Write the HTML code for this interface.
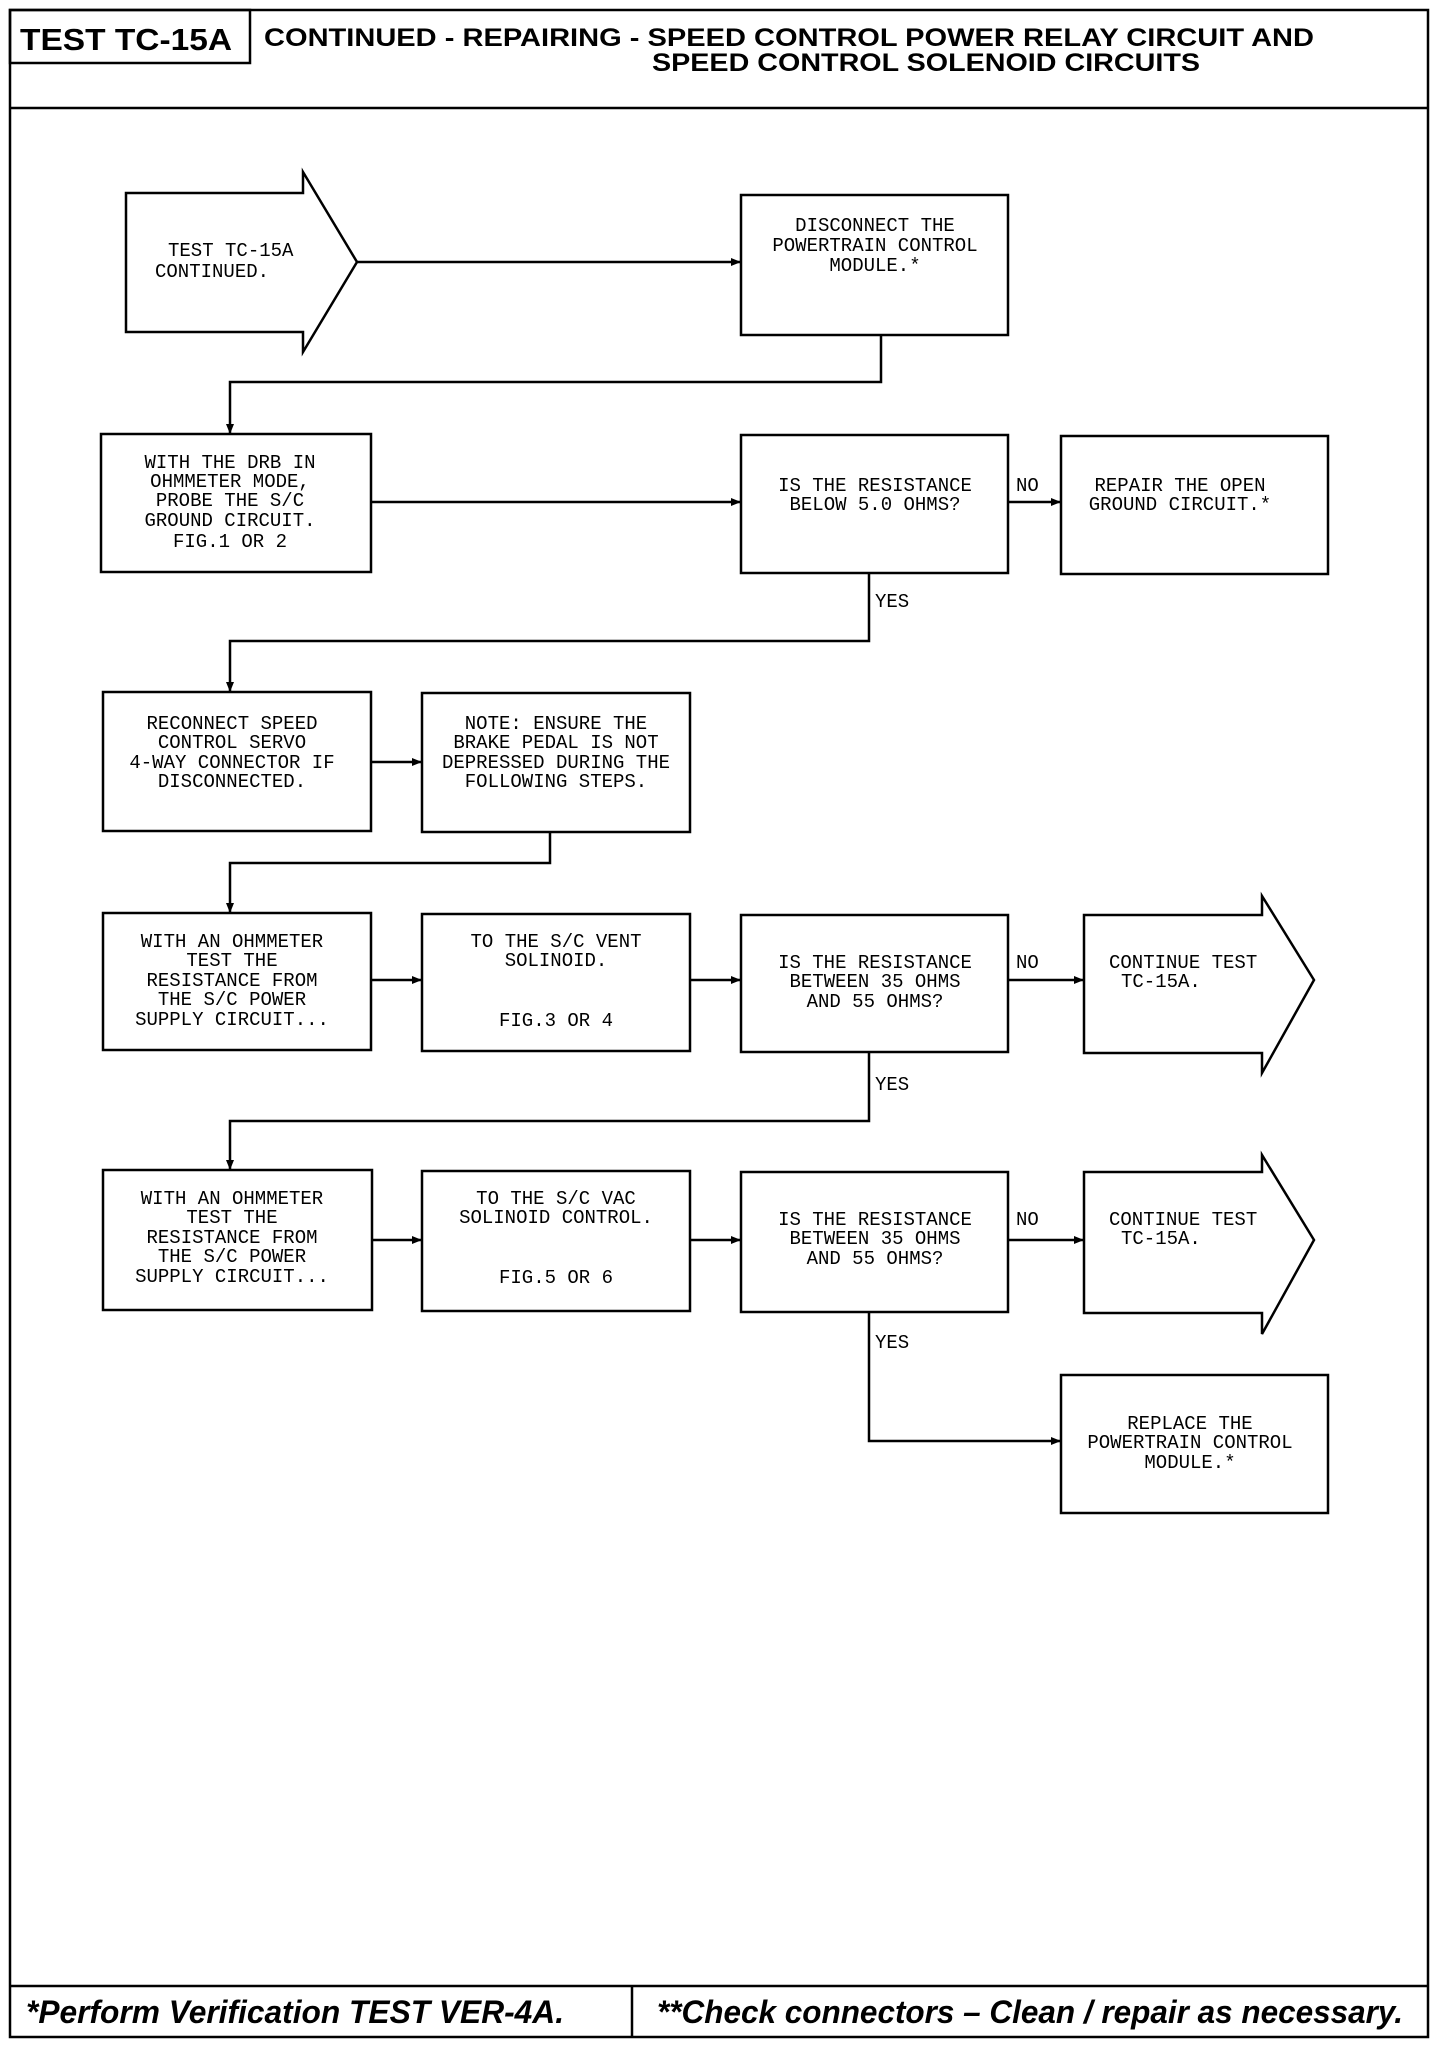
<!DOCTYPE html>
<html><head><meta charset="utf-8"><style>
html,body{margin:0;padding:0;background:#fff;}
svg{display:block;}
.b{font-family:"Liberation Mono",monospace;font-size:19px;fill:#000;}
.h{font-family:"Liberation Sans",sans-serif;font-weight:bold;fill:#000;}
</style></head><body>
<svg width="1440" height="2048" viewBox="0 0 1440 2048" xmlns="http://www.w3.org/2000/svg">
<defs><marker id="a" markerWidth="10" markerHeight="10" refX="9" refY="5" orient="auto" markerUnits="userSpaceOnUse"><path d="M0,1 L10,5 L0,9 Z" fill="#000"/></marker></defs>
<g fill="none" stroke="#000" stroke-width="2.5">
<rect x="10" y="10" width="1418" height="2027"/>
<line x1="10" y1="108" x2="1428" y2="108"/>
<rect x="10" y="10" width="240" height="53"/>
<line x1="10" y1="1986" x2="1428" y2="1986"/>
<line x1="632" y1="1986" x2="632" y2="2037"/>
<!-- start arrow -->
<path d="M126,193 H303 V172 L357,262 L303,352 V332 H126 Z"/>
<rect x="741" y="195" width="267" height="140"/>
<rect x="101" y="434" width="270" height="138"/>
<rect x="741" y="435" width="267" height="138"/>
<rect x="1061" y="436" width="267" height="138"/>
<rect x="103" y="692" width="268" height="139"/>
<rect x="422" y="693" width="268" height="139"/>
<rect x="103" y="913" width="268" height="137"/>
<rect x="422" y="914" width="268" height="137"/>
<rect x="741" y="915" width="267" height="137"/>
<path d="M1084,915 H1262 V896 L1314,980 L1262,1073 V1053 H1084 Z"/>
<rect x="103" y="1170" width="269" height="140"/>
<rect x="422" y="1171" width="268" height="140"/>
<rect x="741" y="1172" width="267" height="140"/>
<path d="M1084,1172 H1262 V1155 L1314,1240 L1262,1334 V1313 H1084 Z"/>
<rect x="1061" y="1375" width="267" height="138"/>
</g>
<g fill="none" stroke="#000" stroke-width="2.5" marker-end="url(#a)">
<line x1="357" y1="262" x2="740" y2="262"/>
<path d="M881,335 V382 H230 V433"/>
<line x1="371" y1="502" x2="740" y2="502"/>
<line x1="1008" y1="502" x2="1060" y2="502"/>
<path d="M869,573 V641 H230 V691"/>
<line x1="371" y1="762" x2="421" y2="762"/>
<path d="M550,832 V863 H230 V912"/>
<line x1="371" y1="980" x2="421" y2="980"/>
<line x1="690" y1="980" x2="740" y2="980"/>
<line x1="1008" y1="980" x2="1083" y2="980"/>
<path d="M869,1052 V1121 H230 V1169"/>
<line x1="372" y1="1240" x2="421" y2="1240"/>
<line x1="690" y1="1240" x2="740" y2="1240"/>
<line x1="1008" y1="1240" x2="1083" y2="1240"/>
<path d="M869,1312 V1441 H1060"/>
</g>
<text class="h" x="20" y="50" font-size="31" textLength="212" lengthAdjust="spacingAndGlyphs">TEST TC-15A</text>
<text class="h" x="264" y="46" font-size="25" textLength="1050" lengthAdjust="spacingAndGlyphs">CONTINUED -  REPAIRING - SPEED CONTROL POWER RELAY CIRCUIT AND</text>
<text class="h" x="652" y="71" font-size="25" textLength="548" lengthAdjust="spacingAndGlyphs">SPEED CONTROL SOLENOID CIRCUITS</text>
<text class="h" x="26" y="2023" font-size="32" font-style="italic" textLength="538" lengthAdjust="spacingAndGlyphs">*Perform Verification TEST VER-4A.</text>
<text class="h" x="657" y="2023" font-size="32" font-style="italic" textLength="746" lengthAdjust="spacingAndGlyphs">**Check connectors – Clean / repair as necessary.</text>
<g class="b">
<text x="168" y="256">TEST TC-15A</text>
<text x="155" y="277">CONTINUED.</text>
</g>
<g class="b" text-anchor="middle">
<text x="875" y="231">DISCONNECT THE</text><text x="875" y="251">POWERTRAIN CONTROL</text><text x="875" y="271">MODULE.*</text>
<text x="230" y="468">WITH THE DRB IN</text><text x="230" y="487">OHMMETER MODE,</text><text x="230" y="506">PROBE THE S/C</text><text x="230" y="526">GROUND CIRCUIT.</text><text x="230" y="547">FIG.1 OR 2</text>
<text x="875" y="491">IS THE RESISTANCE</text><text x="875" y="510">BELOW 5.0 OHMS?</text>
<text x="1180" y="491">REPAIR THE OPEN</text><text x="1180" y="510">GROUND CIRCUIT.*</text>
<text x="232" y="729">RECONNECT SPEED</text><text x="232" y="748">CONTROL SERVO</text><text x="232" y="768">4-WAY CONNECTOR IF</text><text x="232" y="787">DISCONNECTED.</text>
<text x="556" y="729">NOTE: ENSURE THE</text><text x="556" y="748">BRAKE PEDAL IS NOT</text><text x="556" y="768">DEPRESSED DURING THE</text><text x="556" y="787">FOLLOWING STEPS.</text>
<text x="232" y="947">WITH AN OHMMETER</text><text x="232" y="966">TEST THE</text><text x="232" y="986">RESISTANCE FROM</text><text x="232" y="1005">THE S/C POWER</text><text x="232" y="1025">SUPPLY CIRCUIT...</text>
<text x="556" y="947">TO THE S/C VENT</text><text x="556" y="966">SOLINOID.</text><text x="556" y="1026">FIG.3 OR 4</text>
<text x="875" y="968">IS THE RESISTANCE</text><text x="875" y="987">BETWEEN 35 OHMS</text><text x="875" y="1007">AND 55 OHMS?</text>
<text x="232" y="1204">WITH AN OHMMETER</text><text x="232" y="1223">TEST THE</text><text x="232" y="1243">RESISTANCE FROM</text><text x="232" y="1262">THE S/C POWER</text><text x="232" y="1282">SUPPLY CIRCUIT...</text>
<text x="556" y="1204">TO THE S/C VAC</text><text x="556" y="1223">SOLINOID CONTROL.</text><text x="556" y="1283">FIG.5 OR 6</text>
<text x="875" y="1225">IS THE RESISTANCE</text><text x="875" y="1244">BETWEEN 35 OHMS</text><text x="875" y="1264">AND 55 OHMS?</text>
<text x="1190" y="1429">REPLACE THE</text><text x="1190" y="1448">POWERTRAIN CONTROL</text><text x="1190" y="1468">MODULE.*</text>
</g>
<g class="b">
<text x="1109" y="968">CONTINUE TEST</text><text x="1121" y="987">TC-15A.</text>
<text x="1109" y="1225">CONTINUE TEST</text><text x="1121" y="1244">TC-15A.</text>
<text x="1016" y="491">NO</text><text x="1016" y="968">NO</text><text x="1016" y="1225">NO</text>
<text x="875" y="607">YES</text><text x="875" y="1090">YES</text><text x="875" y="1348">YES</text>
</g>
</svg>
</body></html>
